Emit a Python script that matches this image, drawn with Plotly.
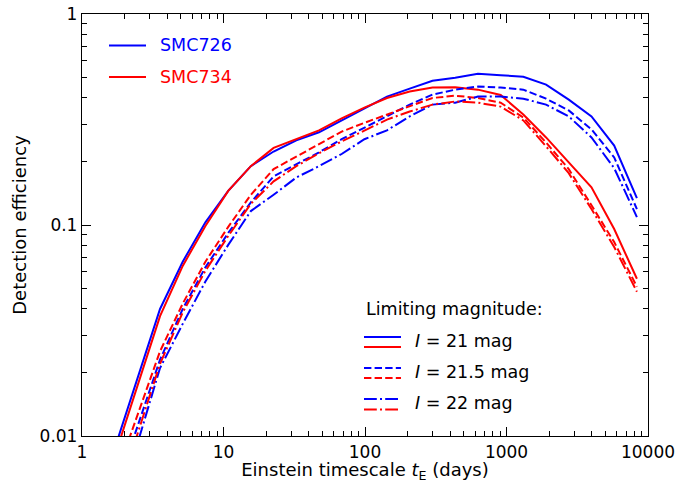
import plotly.graph_objects as go

# ---------------- data ----------------
t_days = [1.70, 2.46, 3.56, 5.15, 7.45, 10.8, 15.6, 22.6, 32.7, 47.3, 68.4, 99.0,
          143, 207, 300, 434, 628, 909, 1315, 1904, 2754, 3986, 5768, 8348]

smc726_21 = [0.0087, 0.0186, 0.040, 0.067, 0.103, 0.145, 0.19, 0.223, 0.252, 0.275, 0.313, 0.356,
             0.406, 0.443, 0.483, 0.499, 0.521, 0.513, 0.504, 0.463, 0.393, 0.327, 0.238, 0.134]
smc734_21 = [0.008, 0.0172, 0.037, 0.064, 0.099, 0.145, 0.19, 0.232, 0.255, 0.281, 0.32, 0.36,
             0.40, 0.429, 0.448, 0.45, 0.438, 0.413, 0.334, 0.26, 0.198, 0.151, 0.0957, 0.0556]
smc726_215 = [0.0053, 0.011, 0.023, 0.040, 0.063, 0.0917, 0.128, 0.17, 0.194, 0.221, 0.255, 0.29,
              0.33, 0.372, 0.415, 0.438, 0.453, 0.448, 0.438, 0.397, 0.349, 0.284, 0.209, 0.119]
smc734_215 = [0.0062, 0.0125, 0.0252, 0.0424, 0.067, 0.098, 0.139, 0.184, 0.211, 0.241, 0.277, 0.305,
              0.333, 0.364, 0.40, 0.41, 0.40, 0.38, 0.323, 0.246, 0.184, 0.124, 0.083, 0.051]
smc726_22 = [0.004, 0.0092, 0.021, 0.034, 0.054, 0.0805, 0.1164, 0.139, 0.168, 0.19, 0.217, 0.255,
             0.281, 0.327, 0.372, 0.38, 0.406, 0.406, 0.397, 0.372, 0.327, 0.26, 0.186, 0.109]
smc734_22 = [0.0047, 0.0102, 0.022, 0.0385, 0.0607, 0.0887, 0.126, 0.161, 0.19, 0.219, 0.249, 0.28,
             0.316, 0.345, 0.372, 0.385, 0.38, 0.364, 0.313, 0.236, 0.176, 0.119, 0.0787, 0.0483]

x_tick_vals = [1, 10, 100, 1000, 10000]
x_tick_text = ["1", "10", "100", "1000", "10000"]
y_tick_vals = [0.01, 0.1, 1]
y_tick_text = ["0.01", "0.1", "1"]

fields = ["SMC726", "SMC734"]
mag_labels = ["<i>I</i> = 21 mag", "<i>I</i> = 21.5 mag", "<i>I</i> = 22 mag"]

# ---------------- style ----------------
BLUE = "#0000ff"
RED = "#ff0000"
DASHES = ["solid", "7.4px,3.2px", "12.8px,3.2px,2px,3.2px"]
LW = 2
FONT = "DejaVu Sans"

W, H = 693, 483
L, R, T, B = 82, 45, 14, 47
PW, PH = W - L - R, H - T - B


def px(xp):
    return (xp - L) / PW


def py(yp):
    return (H - B - yp) / PH


fig = go.Figure()
series = [
    (smc726_21, BLUE, 0), (smc734_21, RED, 0),
    (smc726_215, BLUE, 1), (smc734_215, RED, 1),
    (smc726_22, BLUE, 2), (smc734_22, RED, 2),
]
for vals, col, d in series:
    fig.add_trace(go.Scatter(x=t_days, y=vals, mode="lines",
                             line=dict(color=col, width=LW, dash=DASHES[d]),
                             showlegend=False, hoverinfo="skip"))

minor_x = [m * 10 ** e for e in range(0, 4) for m in range(2, 10)]
minor_y = [m * 10 ** e for e in (-2, -1) for m in range(2, 10)]

axis_common = dict(type="log", ticks="inside", ticklen=9, tickwidth=1, tickcolor="black",
                   showline=True, linecolor="black", linewidth=1.3, mirror="allticks",
                   showgrid=False, zeroline=False,
                   tickfont=dict(family=FONT, size=17, color="black"))

fig.update_xaxes(range=[0, 4], tickvals=x_tick_vals, ticktext=x_tick_text,
                 minor=dict(tickvals=minor_x, ticks="inside", ticklen=5, tickcolor="black",
                            tickwidth=1, showgrid=False),
                 title=dict(text="Einstein timescale <i>t</i><sub>E</sub> (days)",
                            font=dict(family=FONT, size=18, color="black"), standoff=6),
                 **axis_common)
fig.update_yaxes(range=[-2, 0], tickvals=y_tick_vals, ticktext=y_tick_text,
                 minor=dict(tickvals=minor_y, ticks="inside", ticklen=5, tickcolor="black",
                            tickwidth=1, showgrid=False),
                 title=dict(text="Detection efficiency",
                            font=dict(family=FONT, size=18, color="black"), standoff=8),
                 **axis_common)

shapes = []
annotations = []

# Legend 1: fields
for i, (name, col) in enumerate(zip(fields, [BLUE, RED])):
    yy = [45.5, 77][i]
    shapes.append(dict(type="line", xref="paper", yref="paper",
                       x0=px(109), x1=px(146), y0=py(yy), y1=py(yy),
                       line=dict(color=col, width=LW)))
    annotations.append(dict(text=name, xref="paper", yref="paper", x=px(158), y=py(yy),
                            xanchor="left", yanchor="middle", showarrow=False,
                            font=dict(family=FONT, size=17.5, color=col)))

# Legend 2: limiting magnitude
annotations.append(dict(text="Limiting magnitude:", xref="paper", yref="paper",
                        x=px(364), y=py(309), xanchor="left", yanchor="middle",
                        showarrow=False, font=dict(family=FONT, size=17.5, color="black")))
rows = [(337, 347, 341), (368, 378, 372), (399, 409.5, 403)]
for d, (yb, yr, yt) in enumerate(rows):
    for yy, col in ((yb, BLUE), (yr, RED)):
        shapes.append(dict(type="line", xref="paper", yref="paper",
                           x0=px(364), x1=px(401), y0=py(yy), y1=py(yy),
                           line=dict(color=col, width=LW, dash=DASHES[d])))
    annotations.append(dict(text=mag_labels[d], xref="paper", yref="paper",
                            x=px(413), y=py(yt), xanchor="left", yanchor="middle",
                            showarrow=False, font=dict(family=FONT, size=17.5, color="black")))

fig.update_layout(width=W, height=H, margin=dict(l=L, r=R, t=T, b=B, autoexpand=False),
                  plot_bgcolor="white", paper_bgcolor="white",
                  font=dict(family=FONT, size=17, color="black"),
                  shapes=shapes, annotations=annotations)

fig.write_html("out.html")
